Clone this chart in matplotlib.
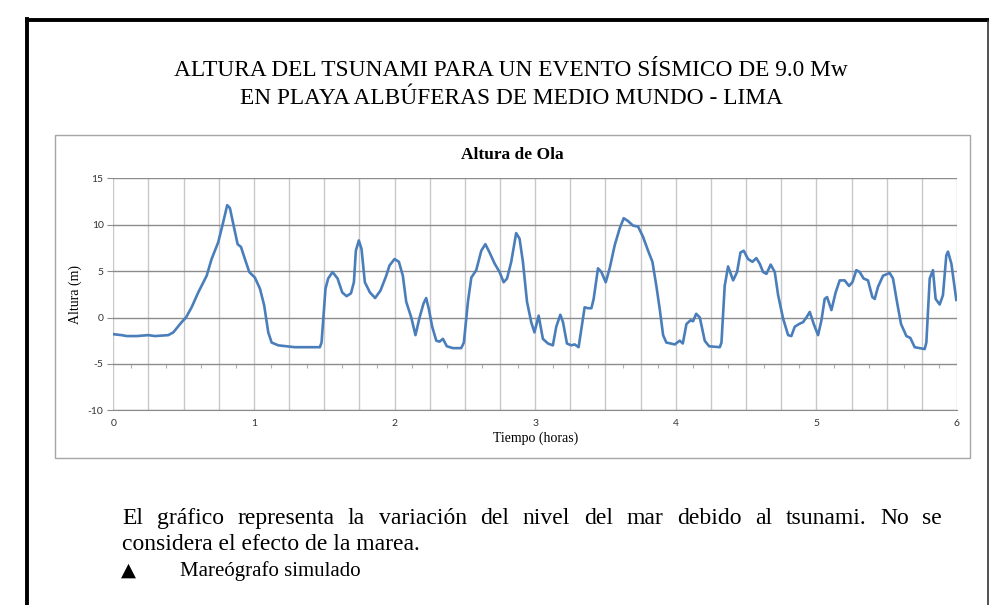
import matplotlib
matplotlib.use("Agg")
import matplotlib.pyplot as plt
from matplotlib.lines import Line2D
from matplotlib.patches import Rectangle

plt.rcParams["axes.unicode_minus"] = False

# datos (tiempo en horas, altura en m)
tiempo = [
    0.000, 0.059, 0.095, 0.166, 0.249, 0.296, 0.391, 0.427, 0.486, 0.517,
    0.557, 0.604, 0.664, 0.699, 0.746, 0.782, 0.810, 0.829, 0.853, 0.884,
    0.908, 0.936, 0.967, 1.007, 1.043, 1.073, 1.102, 1.126, 1.173, 1.291,
    1.469, 1.481, 1.509, 1.528, 1.559, 1.595, 1.628, 1.659, 1.690, 1.711,
    1.725, 1.746, 1.765, 1.789, 1.825, 1.862, 1.900, 1.941, 1.964, 2.000,
    2.031, 2.059, 2.083, 2.119, 2.149, 2.178, 2.206, 2.225, 2.244, 2.268,
    2.297, 2.320, 2.344, 2.372, 2.415, 2.474, 2.493, 2.522, 2.546, 2.581,
    2.617, 2.646, 2.676, 2.712, 2.747, 2.776, 2.800, 2.830, 2.865, 2.889,
    2.913, 2.942, 2.972, 2.995, 3.025, 3.055, 3.091, 3.126, 3.150, 3.179,
    3.198, 3.226, 3.257, 3.281, 3.309, 3.329, 3.352, 3.376, 3.400, 3.416,
    3.447, 3.471, 3.502, 3.530, 3.566, 3.601, 3.630, 3.660, 3.696, 3.732,
    3.767, 3.803, 3.834, 3.862, 3.886, 3.910, 3.933, 3.993, 4.028, 4.050,
    4.076, 4.105, 4.123, 4.145, 4.171, 4.206, 4.237, 4.313, 4.325, 4.348,
    4.372, 4.408, 4.436, 4.460, 4.483, 4.514, 4.545, 4.573, 4.597, 4.621,
    4.645, 4.675, 4.704, 4.728, 4.763, 4.799, 4.822, 4.846, 4.877, 4.905,
    4.929, 4.953, 4.981, 5.012, 5.036, 5.059, 5.076, 5.107, 5.137, 5.166,
    5.201, 5.232, 5.256, 5.284, 5.308, 5.336, 5.367, 5.398, 5.415, 5.438,
    5.474, 5.521, 5.545, 5.573, 5.602, 5.640, 5.668, 5.699, 5.770, 5.782,
    5.806, 5.829, 5.848, 5.877, 5.900, 5.924, 5.936, 5.960, 5.995,
]
altura = [
    -1.8, -1.9, -2.0, -2.0, -1.9, -2.0, -1.9, -1.6, -0.5, 0.0,
    1.1, 2.7, 4.5, 6.3, 8.1, 10.3, 12.1, 11.8, 10.1, 7.9,
    7.6, 6.3, 4.9, 4.3, 3.1, 1.3, -1.6, -2.7, -3.0, -3.2,
    -3.2, -2.7, 3.1, 4.2, 4.9, 4.2, 2.7, 2.3, 2.6, 3.8,
    7.2, 8.3, 7.4, 3.8, 2.7, 2.1, 2.9, 4.5, 5.6, 6.3,
    6.0, 4.5, 1.7, 0.0, -1.9, 0.0, 1.5, 2.1, 0.9, -1.0,
    -2.5, -2.6, -2.3, -3.1, -3.3, -3.3, -2.7, 1.7, 4.3, 5.1,
    7.2, 7.9, 7.0, 5.8, 4.9, 3.8, 4.2, 6.0, 9.1, 8.5,
    6.0, 1.7, -0.5, -1.6, 0.2, -2.3, -2.8, -3.0, -1.0, 0.3,
    -0.5, -2.8, -3.0, -2.9, -3.2, -1.2, 1.1, 1.0, 1.0, 2.0,
    5.3, 4.9, 3.8, 5.3, 7.8, 9.6, 10.7, 10.4, 9.9, 9.8,
    8.7, 7.2, 6.0, 3.4, 0.9, -1.9, -2.7, -2.9, -2.5, -2.8,
    -0.7, -0.3, -0.4, 0.4, 0.0, -2.5, -3.1, -3.2, -2.7, 3.4,
    5.5, 4.0, 4.9, 7.0, 7.2, 6.3, 6.0, 6.4, 5.8, 4.9,
    4.7, 5.7, 4.9, 2.4, -0.1, -1.9, -2.0, -1.0, -0.7, -0.5,
    0.0, 0.6, -0.7, -1.9, -0.3, 2.0, 2.2, 0.8, 2.7, 4.0,
    4.0, 3.4, 3.8, 5.1, 4.9, 4.2, 4.0, 2.2, 2.0, 3.3,
    4.5, 4.8, 4.2, 1.7, -0.7, -2.0, -2.2, -3.2, -3.4, -2.7,
    4.2, 5.1, 2.0, 1.4, 2.4, 6.7, 7.1, 5.8, 1.9,
]

x_ticks = [0, 1, 2, 3, 4, 5, 6]
y_ticks = [-10, -5, 0, 5, 10, 15]

titulo = ["ALTURA DEL TSUNAMI PARA UN EVENTO SÍSMICO DE 9.0 Mw",
          "EN PLAYA ALBÚFERAS DE MEDIO MUNDO - LIMA"]
parrafo = ("El gráfico representa la variación del nivel del mar debido al tsunami. "
           "No se considera el efecto de la marea.")

SERIF = ["Liberation Serif", "DejaVu Serif"]
W, H = 989, 605

fig = plt.figure(figsize=(W / 100, H / 100), dpi=100)


def fx(px):
    return px / W


def fy(py):
    return 1 - py / H


# marco negro de la pagina
fig.add_artist(Line2D([fx(27), fx(27)], [fy(19), 0], color="black", lw=2.8, transform=fig.transFigure))
fig.add_artist(Line2D([fx(27), fx(989)], [fy(20), fy(20)], color="black", lw=2.8, transform=fig.transFigure))
fig.add_artist(Line2D([fx(987.5), fx(987.5)], [fy(21), 0], color="#333333", lw=1.2, transform=fig.transFigure))

# titulo
fig.text(fx(511), fy(71), titulo[0], ha="center", va="center", family=SERIF, fontsize=16.8)
fig.text(fx(511), fy(98), titulo[1], ha="center", va="center", family=SERIF, fontsize=16.8)

# recuadro del grafico
fig.add_artist(Rectangle((fx(55), fy(458)), fx(970) - fx(55), fy(135) - fy(458),
                         fill=False, edgecolor="#a6a6a6", lw=1.0, transform=fig.transFigure))
fig.text(fx(512), fy(155), "Altura de Ola", ha="center", va="center", family=SERIF,
         fontsize=12.5, fontweight="bold")

ax = fig.add_axes([fx(113.3), fy(410.3), fx(957) - fx(113.3), fy(178.3) - fy(410.3)])
ax.plot(tiempo, altura, color="#4a7ebb", lw=1.9, solid_joinstyle="round")
ax.set_xlim(0, 6)
ax.set_ylim(-10, 15)

ax.set_xticks(x_ticks)
ax.set_xticks([i * 0.25 for i in range(25)], minor=True)
ax.set_yticks(y_ticks)
ax.grid(True, which="both", axis="x", color="#c8c8c8", lw=1.0)
ax.grid(True, which="major", axis="y", color="#8c8c8c", lw=1.0)
ax.set_axisbelow(True)
for s in ["top", "right", "left"]:
    ax.spines[s].set_visible(False)
ax.spines["bottom"].set_color("#8c8c8c")
ax.tick_params(axis="x", which="both", length=0, pad=6, labelsize=7.5, labelcolor="#333333")
ax.tick_params(axis="y", length=4, color="#8c8c8c", pad=3, labelsize=7.5, labelcolor="#333333")
for lab in ax.get_xticklabels() + ax.get_yticklabels():
    lab.set_family(["Lato", "DejaVu Sans"])

# marcas pequeñas del eje horizontal a la altura -5
sec = ax.secondary_xaxis(0.2)
sec.set_xticks([0.125 + i * 0.25 for i in range(24)])
sec.tick_params(length=3, color="#b0b0b0", labelbottom=False, labeltop=False, direction="out")
sec.spines["bottom"].set_visible(False)
sec.spines["top"].set_visible(False)
sec.xaxis.set_ticks_position("bottom")
sec.tick_params(labelbottom=False)

ax.set_xlabel("Tiempo (horas)", family=SERIF, fontsize=10, labelpad=3)
ax.set_ylabel("Altura (m)", family=SERIF, fontsize=10, labelpad=4)

# parrafo justificado
fig.canvas.draw()
renderer = fig.canvas.get_renderer()
left_px, right_px = 122, 942
size = 17
palabras = parrafo.split()
linea1 = palabras[:14]
linea2 = palabras[14:]


def ancho(t):
    tt = fig.text(0, 0, t, family=SERIF, fontsize=size)
    w = tt.get_window_extent(renderer).width
    tt.remove()
    return w


anchos = [ancho(p) for p in linea1]
hueco = (right_px - left_px - sum(anchos)) / (len(linea1) - 1)
pos = left_px
for p, w in zip(linea1, anchos):
    fig.text(fx(pos), fy(524), p, family=SERIF, fontsize=size, va="baseline", ha="left")
    pos += w + hueco
fig.text(fx(left_px), fy(550), " ".join(linea2), family=SERIF, fontsize=size, va="baseline", ha="left")
fig.text(fx(121), fy(570), "▲", family=["DejaVu Sans"], fontsize=14, va="center", ha="left")
fig.text(fx(180), fy(576), "Mareógrafo simulado", family=SERIF, fontsize=15, va="baseline", ha="left")

fig.savefig("out.png", dpi=100)
